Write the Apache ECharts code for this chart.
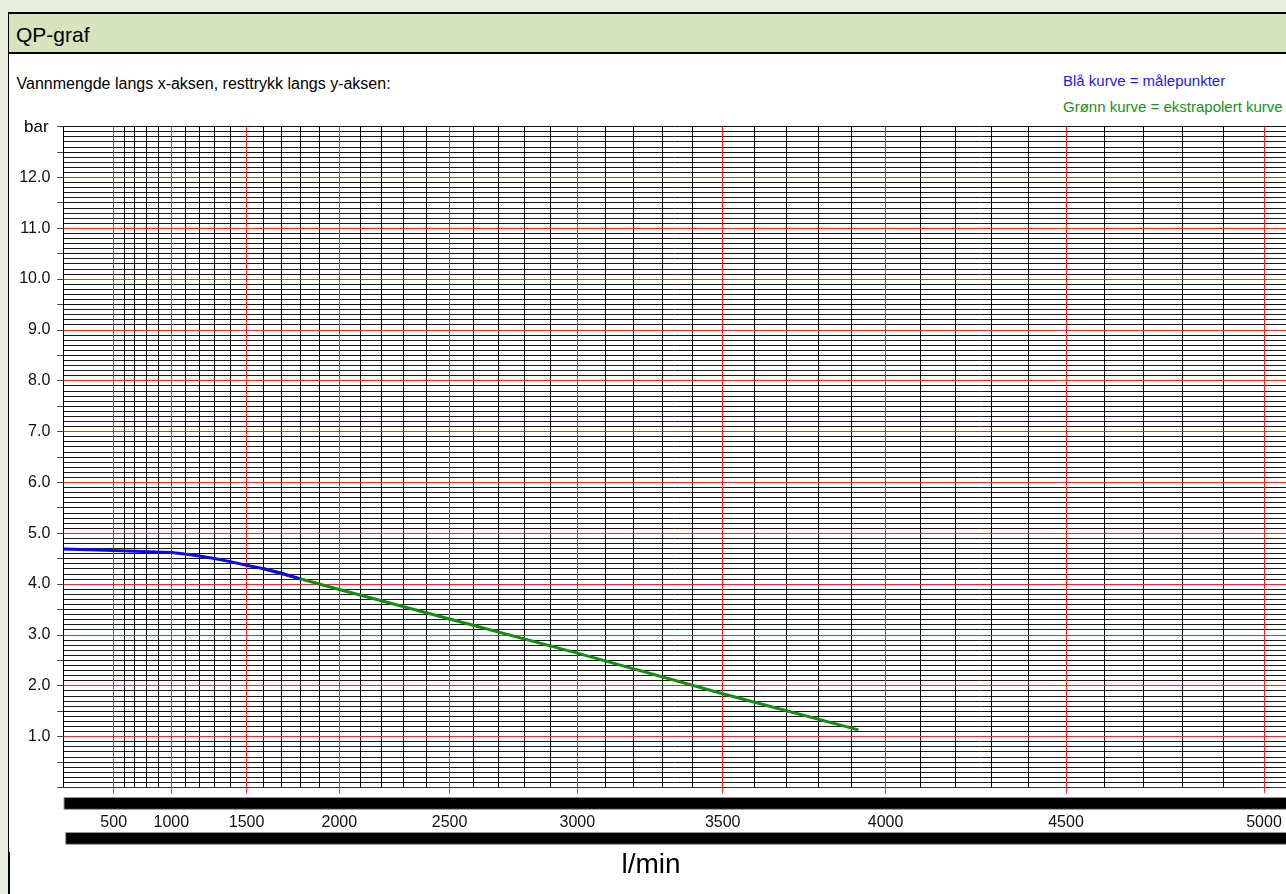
<!DOCTYPE html>
<html><head><meta charset="utf-8">
<script src="https://cdn.jsdelivr.net/npm/echarts@6/dist/echarts.min.js"></script>
<style>
html,body{margin:0;padding:0;width:1286px;height:894px;overflow:hidden;background:#e8f0dc;font-family:"Liberation Sans",Arial,Helvetica,sans-serif;}
#frame{position:absolute;left:8px;top:12px;width:1300px;height:900px;background:#fff;border-left:1px solid #000;border-top:2px solid #000;}
#head{position:absolute;left:0;top:0;right:0;height:38px;background:#d7e3bd;border-bottom:2px solid #000;}
#head span{position:absolute;left:7px;top:0;font-size:21px;line-height:42px;color:#000;}
#foot{position:absolute;left:8px;top:852px;width:2px;height:50px;background:#000;}
.t{position:absolute;white-space:nowrap;}
#chart{position:absolute;left:0;top:0;width:1286px;height:894px;}
</style></head>
<body>
<div id="frame"><div id="head"><span>QP-graf</span></div></div>
<div id="foot"></div>
<div class="t" style="left:16.5px;top:76px;font-size:16px;line-height:16px;color:#000;">Vannmengde langs x-aksen, resttrykk langs y-aksen:</div>
<div class="t" style="left:1063px;top:72.5px;font-size:15px;line-height:15px;color:#2020f0;">Blå kurve = målepunkter</div>
<div class="t" style="left:1063px;top:98.5px;font-size:15px;line-height:15px;color:#1a8f1a;">Grønn kurve = ekstrapolert kurve</div>
<div id="chart"></div>
<script>
// ---- data ----
const flowTickLabels = [500, 1000, 1500, 2000, 2500, 3000, 3500, 4000, 4500, 5000]; // l/min
const flowGridStep = 100;          // l/min between fine vertical lines
const flowVisibleMax = 5053;       // l/min at right edge of the sheet
const pressureRedLines = [1, 2, 3, 4, 5, 6, 7, 8, 9, 10, 11, 12]; // bar
const blueFlow = [0, 500, 1000, 1100, 1200, 1300, 1400, 1500, 1600, 1700, 1800];
const bluePressure = [4.69, 4.66, 4.62, 4.59, 4.55, 4.50, 4.44, 4.37, 4.30, 4.21, 4.10];
const greenFlow = [1600, 2000, 2500, 3000, 3500, 3920];
const greenPressure = [4.30, 3.89, 3.31, 2.64, 1.84, 1.13];

// graph-paper scale of the flow axis (non-linear sheet)
function paper(q) {
  const n = q / 500;
  return n < 1 ? 50.4 * n : 10.28 + 31.35 * n + 8.77 * n * n;
}

const majorT = flowTickLabels.map(paper);
const minorFlows = [];
for (let q = flowTickLabels[0] + flowGridStep; q <= flowTickLabels[flowTickLabels.length - 1]; q += flowGridStep) {
  if (q % 500 !== 0) minorFlows.push(q);
}
function labelFor(v) {
  let best = 0, bd = Infinity;
  majorT.forEach((t, i) => { const d = Math.abs(t - v); if (d < bd) { bd = d; best = i; } });
  return String(flowTickLabels[best]);
}

const chart = echarts.init(document.getElementById('chart'), null, {renderer: 'canvas'});
chart.setOption({
  animation: false,
  backgroundColor: 'transparent',
  textStyle: {fontFamily: '"Liberation Sans", Arial, sans-serif'},
  grid: {left: 63.3, top: 126.5, right: 0, bottom: 106.7, containLabel: false, outerBoundsMode: 'none'},
  xAxis: {
    type: 'value', min: 0, max: paper(flowVisibleMax),
    axisLine: {show: true, onZero: false, lineStyle: {color: '#333', width: 1}},
    axisTick: {show: true, customValues: majorT, length: 6, lineStyle: {color: '#ff3030', width: 1}},
    axisLabel: {show: true, customValues: majorT, formatter: (v) => labelFor(v), fontSize: 16, color: '#111', margin: 27, hideOverlap: false},
    splitLine: {show: false}
  },
  yAxis: {
    type: 'value', min: 0, max: 13, interval: 0.5,
    axisLine: {show: true, lineStyle: {color: '#000', width: 1}},
    axisTick: {show: true, length: 6, lineStyle: {color: '#444'}},
    axisLabel: {fontSize: 16, color: '#111', margin: 13,
      formatter: (v) => (Math.abs(v - Math.round(v)) < 1e-6 && v >= 1 && v <= 12) ? v.toFixed(1) : ''},
    splitLine: {show: true, lineStyle: {color: '#111', width: 1}},
    minorTick: {show: false, splitNumber: 5},
    minorSplitLine: {show: true, lineStyle: {color: '#1a1a1a', width: 1}}
  },
  graphic: [
    {type: 'rect', shape: {x: 64, y: 797.5, width: 1240, height: 11.8}, style: {fill: '#000', stroke: '#999', lineWidth: 1}, z: 10},
    {type: 'rect', shape: {x: 65.7, y: 832.5, width: 1240, height: 11.8}, style: {fill: '#000', stroke: '#999', lineWidth: 1}, z: 10},
    {type: 'text', x: 24, y: 127, style: {text: 'bar', font: '17px "Liberation Sans", Arial, sans-serif', fill: '#000', textVerticalAlign: 'middle'}},
    {type: 'text', x: 651, y: 865, style: {text: 'l/min', font: '28px "Liberation Sans", Arial, sans-serif', fill: '#000', textAlign: 'center', textVerticalAlign: 'middle'}}
  ],
  series: [
    {
      type: 'line', data: [], z: 1, silent: true,
      markLine: {
        silent: true, symbol: ['none', 'none'], label: {show: false}, animation: false,
        lineStyle: {color: '#000', width: 1, type: 'solid'},
        data: minorFlows.map(q => ({xAxis: paper(q)}))
      }
    },
    {
      type: 'line', data: [], z: 2, silent: true,
      markLine: {
        silent: true, symbol: ['none', 'none'], label: {show: false}, animation: false,
        lineStyle: {color: '#ff2020', width: 1, type: 'solid'},
        data: majorT.map(t => ({xAxis: t})).concat(pressureRedLines.map(p => ({yAxis: p})))
      }
    },
    {
      name: 'Grønn kurve', type: 'line', z: 5, symbol: 'none', smooth: false,
      lineStyle: {color: '#128c12', width: 3},
      data: greenFlow.map((q, i) => [paper(q), greenPressure[i]])
    },
    {
      name: 'Blå kurve', type: 'line', z: 6, symbol: 'none', smooth: false,
      lineStyle: {color: '#0a0af0', width: 3},
      data: blueFlow.map((q, i) => [paper(q), bluePressure[i]])
    }
  ]
});
</script>
</body></html>
